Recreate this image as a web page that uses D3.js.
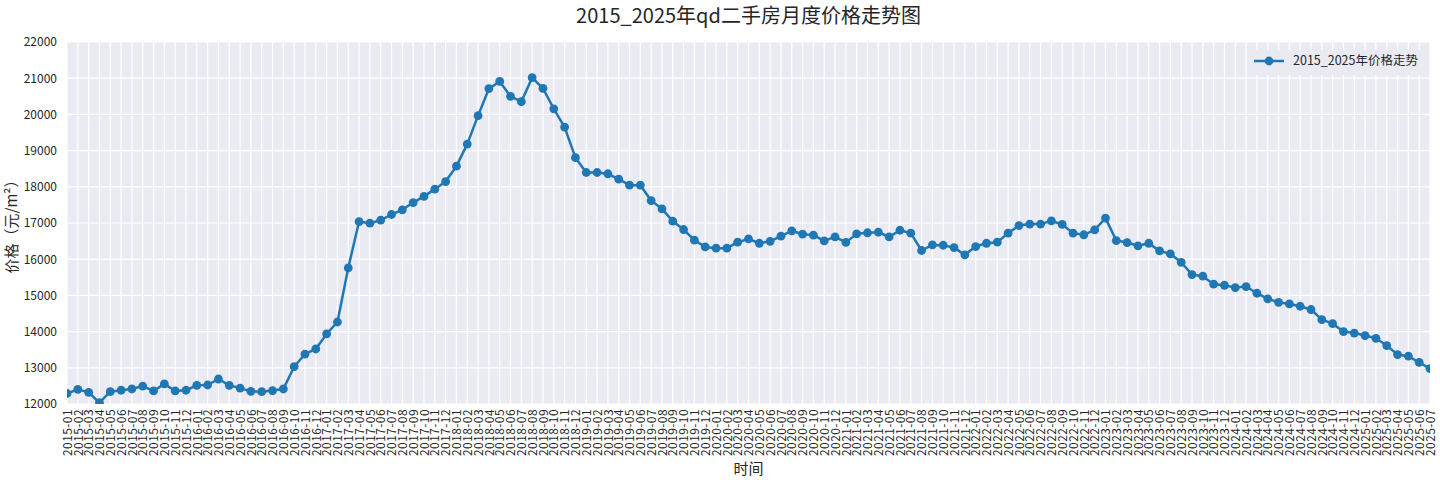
<!DOCTYPE html>
<html>
<head>
<meta charset="utf-8">
<script src="https://cdn.jsdelivr.net/npm/d3@7"></script>
<style>
  body { margin: 0; background: #fff; }
  text { font-family: "Noto Sans CJK SC", "DejaVu Sans", sans-serif; fill: #262626; }
</style>
</head>
<body>
<div id="chart"></div>
<script>
// month labels 2015-01 .. 2025-07
const startMonth = new Date(2015, 0, 1);
const endMonth = new Date(2025, 7, 1);
const months = d3.timeMonth.range(startMonth, endMonth).map(d3.timeFormat("%Y-%m"));

// average price (yuan / m2), one per month
const prices = [
  12290, 12405, 12320, 12035, 12340, 12380, 12415, 12495, 12360, 12555, 12360, 12380,
  12515, 12525, 12690, 12515, 12440, 12350, 12340, 12370, 12415, 13030, 13380, 13520,
  13935, 14265, 15760, 17040, 16995, 17080, 17235, 17365, 17565, 17735, 17935, 18145,
  18570, 19180, 19965, 20710, 20910, 20500, 20350, 21015, 20720, 20155, 19650, 18805,
  18395, 18395, 18360, 18210, 18045, 18045, 17620, 17390, 17050, 16820, 16525, 16340,
  16305, 16305, 16470, 16560, 16440, 16495, 16635, 16785, 16690, 16665, 16505, 16615,
  16465, 16700, 16730, 16745, 16615, 16800, 16720, 16240, 16395, 16385, 16320, 16120,
  16350, 16440, 16470, 16720, 16930, 16970, 16970, 17060, 16960, 16720, 16675, 16810,
  17135, 16515, 16460, 16370, 16440, 16230, 16145, 15915, 15575, 15530, 15310, 15280,
  15215, 15245, 15060, 14905, 14810, 14765, 14700, 14610, 14330, 14220, 14000, 13960,
  13890, 13815, 13615, 13365, 13320, 13150, 12975
];

const yTicks = [12000, 13000, 14000, 15000, 16000, 17000, 18000, 19000, 20000, 21000, 22000];

const titleText = "2015_2025年qd二手房月度价格走势图";
const seriesName = "2015_2025年价格走势";
const xLabel = "时间";
const yLabel = "价格（元/m²）";

const width = 1440, height = 480;
const margin = { top: 42, right: 10, bottom: 76, left: 67 };
const innerW = width - margin.left - margin.right;
const innerH = height - margin.top - margin.bottom;
const lineColor = "#1f77b4";

const data = months.map((m, i) => ({ month: m, price: prices[i] }));

const svg = d3.select("#chart").append("svg")
  .attr("width", width)
  .attr("height", height);

const x = d3.scalePoint().domain(months).range([0, innerW]).padding(0);
const y = d3.scaleLinear().domain([12000, 22000]).range([innerH, 0]);

const g = svg.append("g").attr("transform", `translate(${margin.left},${margin.top})`);

g.append("rect")
  .attr("width", innerW)
  .attr("height", innerH)
  .attr("fill", "#eaeaf2");

// grid
g.append("g").selectAll("line").data(months).enter().append("line")
  .attr("x1", d => x(d)).attr("x2", d => x(d))
  .attr("y1", 0).attr("y2", innerH)
  .attr("stroke", "#fff").attr("stroke-width", 1.2);
g.append("g").selectAll("line").data(yTicks).enter().append("line")
  .attr("x1", 0).attr("x2", innerW)
  .attr("y1", d => y(d)).attr("y2", d => y(d))
  .attr("stroke", "#fff").attr("stroke-width", 1.2);

// axes
const yAxis = g.append("g")
  .call(d3.axisLeft(y).tickValues(yTicks).tickSize(0).tickPadding(10).tickFormat(d3.format("d")));
yAxis.select(".domain").remove();
yAxis.selectAll("text").attr("font-size", 12).attr("fill", "#262626");

const xAxis = g.append("g")
  .attr("transform", `translate(0,${innerH})`)
  .call(d3.axisBottom(x).tickSize(0).tickPadding(0));
xAxis.select(".domain").remove();
xAxis.selectAll("text")
  .attr("font-size", 12)
  .attr("letter-spacing", 0.4)
  .attr("fill", "#262626")
  .attr("text-anchor", "end")
  .attr("transform", "rotate(-90)")
  .attr("x", -5)
  .attr("y", 0)
  .attr("dy", "0.35em");

// clip to plot area
svg.append("defs").append("clipPath").attr("id", "clip")
  .append("rect").attr("width", innerW).attr("height", innerH);

const plot = g.append("g").attr("clip-path", "url(#clip)");

const line = d3.line().x(d => x(d.month)).y(d => y(d.price));

plot.append("path")
  .datum(data)
  .attr("fill", "none")
  .attr("stroke", lineColor)
  .attr("stroke-width", 2.5)
  .attr("stroke-linejoin", "round")
  .attr("d", line);

plot.selectAll("circle").data(data).enter().append("circle")
  .attr("cx", d => x(d.month))
  .attr("cy", d => y(d.price))
  .attr("r", 4.4)
  .attr("fill", lineColor);

// legend
const legend = g.append("g").attr("transform", `translate(${innerW - 182},8)`);
legend.append("rect")
  .attr("width", 178).attr("height", 25)
  .attr("fill", "#eaeaf2");
legend.append("line")
  .attr("x1", 6).attr("x2", 36).attr("y1", 11).attr("y2", 11)
  .attr("stroke", lineColor).attr("stroke-width", 2.5);
legend.append("circle").attr("cx", 21).attr("cy", 11).attr("r", 4.4).attr("fill", lineColor);
legend.append("text")
  .attr("x", 45).attr("y", 11).attr("dy", "0.35em")
  .attr("font-size", 12.5)
  .text(seriesName);

// titles
svg.append("text")
  .attr("x", margin.left + innerW / 2).attr("y", 23)
  .attr("text-anchor", "middle")
  .attr("font-size", 20)
  .text(titleText);

svg.append("text")
  .attr("x", margin.left + innerW / 2).attr("y", 474)
  .attr("text-anchor", "middle")
  .attr("font-size", 15)
  .text(xLabel);

svg.append("text")
  .attr("transform", `translate(17,${margin.top + innerH / 2}) rotate(-90)`)
  .attr("text-anchor", "middle")
  .attr("font-size", 15)
  .text(yLabel);
</script>
</body>
</html>
